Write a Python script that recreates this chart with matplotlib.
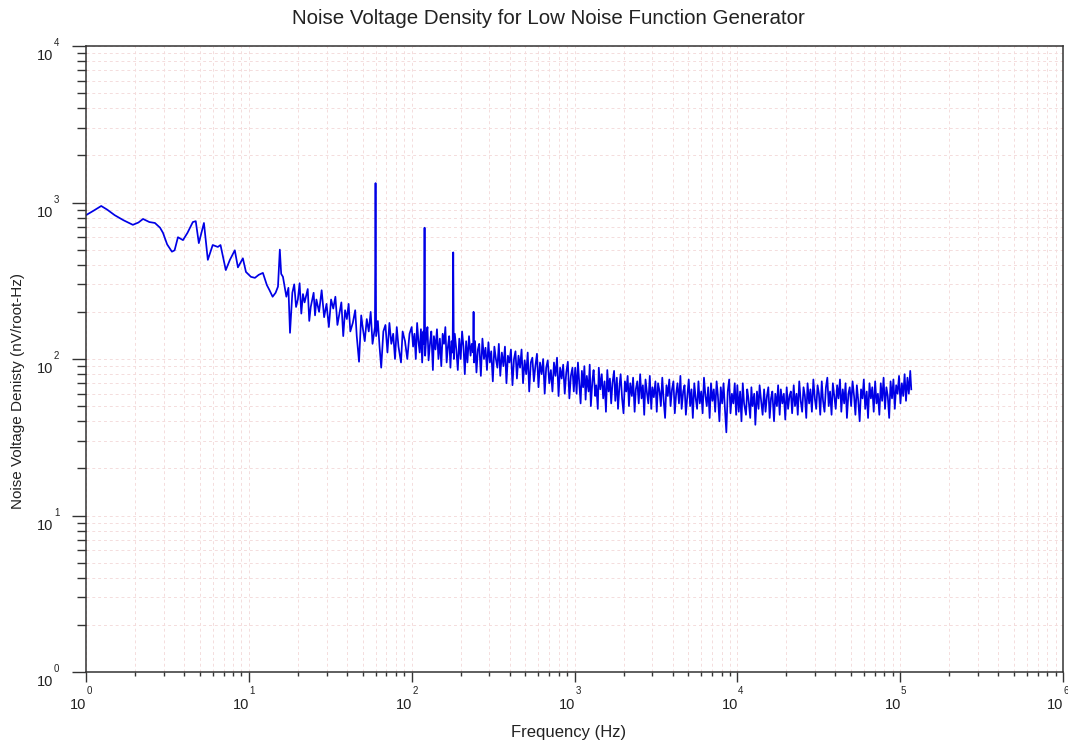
import numpy as np
import matplotlib
matplotlib.use('Agg')
import matplotlib.pyplot as plt
from matplotlib.ticker import LogLocator, NullFormatter

plt.rcParams.update({
    'font.family': ['Liberation Sans', 'DejaVu Sans'],
    'axes.linewidth': 1.1,
})

# smooth low-frequency part of the spectrum (Hz, nV/rtHz)
freq_low = [1.0, 1.12, 1.24, 1.35, 1.5, 1.7, 1.94, 2.1, 2.24, 2.45, 2.65, 2.85,
            2.97, 3.15, 3.37, 3.5, 3.67, 3.94, 4.2, 4.53, 4.72, 4.93, 5.3, 5.6,
            6.0, 6.45, 6.7, 7.22, 7.65, 8.2, 8.57, 9.19, 9.6, 10.3, 10.9, 11.5,
            12.2, 12.9, 13.4, 14.0, 14.6, 15.1, 15.5, 15.8, 16.2]
nvd_low = [830, 890, 950, 900, 830, 770, 720, 745, 785, 750, 740, 690,
           640, 540, 485, 495, 600, 575, 640, 750, 760, 550, 740, 430,
           535, 520, 535, 370, 430, 495, 385, 440, 360, 335, 330, 345,
           355, 297, 275, 250, 265, 290, 500, 350, 335]

# noisy part, 16 Hz - 100 Hz (60 Hz mains line)
freq_10 = [16.5, 17, 17.5, 17.9, 18.5, 19, 19.5, 20, 20.5, 21,
           21.5, 22, 23, 23.5, 24, 25, 25.5, 26, 27, 28,
           29, 30, 31, 32, 33, 34, 35, 36, 37, 38,
           39, 40, 41, 42, 43.5, 45, 46, 47.5, 49, 50,
           51.5, 53, 54.5, 56, 57.5, 59.5, 60, 60.5, 62, 63.5,
           65, 67, 69, 71, 73, 75, 77, 79, 81, 83,
           86, 88, 91, 94, 97]
nvd_10 = [300, 250, 285, 147, 265, 300, 215, 240, 305, 195,
          260, 230, 280, 175, 215, 265, 190, 240, 200, 275,
          185, 225, 160, 240, 210, 250, 165, 195, 230, 140,
          205, 180, 225, 150, 170, 205, 140, 96, 190, 160,
          130, 180, 150, 200, 125, 160, 1330, 140, 175, 120,
          88, 150, 165, 110, 170, 125, 145, 100, 160, 120,
          95, 150, 130, 100, 145]

# 100 Hz - 1 kHz (120, 180, 240 Hz harmonics)
freq_100 = [100, 102, 104, 106, 108, 110, 112, 114, 116, 118,
            119, 120, 121, 123, 125, 127, 130, 132, 135, 137,
            140, 143, 146, 149, 152, 155, 158, 161, 164, 167,
            170, 173, 176, 178.5, 180, 181.5, 184, 188, 192, 196,
            200, 204, 208, 212, 216, 220, 225, 230, 234, 238.5,
            240, 241.5, 245, 250, 255, 260, 266, 272, 278, 284,
            290, 296, 302, 308, 315, 322, 329, 336, 343, 350,
            358, 366, 374, 382, 390, 398, 407, 416, 425, 434,
            443, 453, 463, 473, 483, 494, 505, 516, 527, 539,
            551, 563, 575, 588, 601, 614, 628, 642, 656, 670,
            685, 700, 716, 732, 748, 764, 781, 798, 816, 834,
            852, 871, 890, 910, 930, 950, 971, 990]
nvd_100 = [160, 120, 145, 100, 170, 130, 110, 155, 95, 150,
           125, 690, 105, 140, 160, 98, 130, 150, 85, 140,
           115, 155, 100, 135, 90, 145, 125, 160, 95, 120,
           140, 88, 130, 110, 480, 100, 145, 115, 85, 135,
           100, 150, 120, 80, 130, 95, 140, 105, 125, 110,
           200, 95, 130, 82, 115, 125, 78, 135, 100, 118,
           85, 128, 95, 112, 72, 120, 100, 88, 125, 78,
           110, 90, 120, 70, 105, 95, 115, 68, 100, 112,
           75, 105, 88, 115, 70, 98, 80, 110, 62, 95,
           102, 72, 90, 108, 66, 95, 80, 100, 60, 88,
           98, 70, 85, 62, 95, 78, 102, 58, 88, 75,
           92, 60, 82, 96, 56, 78, 88, 62]

# 1 kHz - 10 kHz
freq_1k = [1010, 1030, 1050, 1070, 1090, 1110, 1130, 1150, 1170, 1190,
           1220, 1240, 1260, 1290, 1310, 1340, 1360, 1390, 1410, 1440,
           1470, 1500, 1530, 1560, 1590, 1620, 1650, 1680, 1710, 1750,
           1780, 1820, 1850, 1890, 1920, 1960, 2000, 2040, 2080, 2120,
           2160, 2200, 2250, 2290, 2340, 2380, 2430, 2480, 2530, 2580,
           2630, 2680, 2730, 2790, 2840, 2900, 2960, 3010, 3070, 3140,
           3200, 3260, 3330, 3390, 3460, 3530, 3600, 3670, 3740, 3820,
           3890, 3970, 4050, 4130, 4210, 4290, 4380, 4470, 4550, 4650,
           4740, 4830, 4930, 5030, 5130, 5230, 5330, 5440, 5550, 5660,
           5770, 5880, 6000, 6120, 6240, 6370, 6490, 6620, 6760, 6890,
           7030, 7170, 7310, 7460, 7600, 7760, 7910, 8070, 8230, 8390,
           8560, 8730, 8910, 9080, 9260, 9450, 9640, 9830]
nvd_1k = [88, 60, 95, 70, 52, 84, 66, 90, 55, 78,
          62, 92, 50, 74, 85, 58, 68, 48, 88, 64,
          80, 56, 72, 46, 85, 62, 75, 52, 70, 84,
          54, 76, 48, 68, 80, 56, 45, 72, 62, 78,
          50, 70, 58, 76, 46, 64, 72, 52, 80, 56,
          68, 44, 74, 60, 52, 78, 48, 66, 57, 72,
          46, 70, 62, 50, 76, 54, 42, 68, 58, 74,
          50, 64, 72, 45, 60, 70, 52, 78, 48, 62,
          68, 44, 58, 74, 50, 64, 42, 70, 56, 48,
          72, 52, 62, 45, 76, 58, 50, 66, 42, 70,
          54, 64, 46, 72, 58, 40, 66, 52, 70, 48,
          34, 62, 74, 45, 60, 52, 70, 44]

# 10 kHz - 117 kHz
freq_10k = [10000, 10200, 10400, 10600, 10800, 11000, 11300, 11500, 11700, 12000,
            12200, 12400, 12700, 12900, 13200, 13500, 13700, 14000, 14300, 14600,
            14900, 15200, 15500, 15800, 16100, 16400, 16800, 17100, 17500, 17800,
            18200, 18500, 18900, 19300, 19700, 20100, 20500, 20900, 21300, 21700,
            22200, 22600, 23100, 23500, 24000, 24500, 25000, 25500, 26000, 26500,
            27000, 27600, 28100, 28700, 29300, 29900, 30500, 31100, 31700, 32300,
            33000, 33600, 34300, 35000, 35700, 36400, 37100, 37900, 38600, 39400,
            40200, 41000, 41800, 42700, 43500, 44400, 45300, 46200, 47100, 48100,
            49000, 50000, 51000, 52100, 53100, 54200, 55300, 56400, 57500, 58700,
            59800, 61000, 62300, 63500, 64800, 66100, 67400, 68800, 70200, 71600,
            73000, 74500, 76000, 77500, 79100, 80700, 82300, 83900, 85600, 87300,
            89100, 90900, 92700, 94500, 96400, 98400, 100400, 102400, 104400, 106500,
            108600, 110800, 113000, 115300, 117000]
nvd_10k = [68, 46, 62, 40, 70, 52, 44, 64, 56, 42,
           66, 50, 60, 38, 62, 48, 68, 54, 44, 64,
           46, 58, 66, 42, 56, 62, 40, 60, 50, 68,
           44, 64, 52, 60, 41, 66, 48, 58, 62, 45,
           68, 50, 60, 44, 72, 54, 46, 66, 58, 42,
           70, 52, 64, 46, 74, 56, 48, 68, 60, 44,
           72, 54, 46, 66, 76, 50, 62, 44, 70, 58,
           48, 68, 56, 74, 46, 64, 52, 70, 42, 60,
           66, 50, 72, 58, 44, 68, 54, 40, 64, 56,
           74, 48, 62, 42, 70, 56, 66, 46, 72, 52,
           60, 44, 70, 54, 76, 48, 66, 58, 42, 72,
           56, 74, 48, 68, 60, 78, 52, 70, 58, 80,
           54, 76, 60, 84, 64]

freq = np.array(freq_low + freq_10 + freq_100 + freq_1k + freq_10k)
nvd = np.array(nvd_low + nvd_10 + nvd_100 + nvd_1k + nvd_10k)

fig = plt.figure(figsize=(10.68, 7.44), dpi=100)
ax = fig.add_axes([86 / 1068, 1 - 672 / 744, (1063 - 86) / 1068, (672 - 46) / 744])

ax.plot(freq, nvd, color='#0000e6', linewidth=1.25)

ax.set_xscale('log')
ax.set_yscale('log')
ax.set_xlim(1, 1e6)
ax.set_ylim(1, 1e4)

sub = LogLocator(base=10, subs=np.arange(2, 10))
ax.xaxis.set_minor_locator(sub)
ax.yaxis.set_minor_locator(sub)
for a in (ax.xaxis, ax.yaxis):
    a.set_major_formatter(NullFormatter())
    a.set_minor_formatter(NullFormatter())

ax.grid(True, which='both', color='#f4dcdc', linestyle=(0, (3, 3)), linewidth=0.7)
ax.set_axisbelow(True)

ax.tick_params(which='both', direction='out', color='#333333', width=1.0,
               top=False, right=False)
ax.tick_params(axis='x', which='major', length=7)
ax.tick_params(axis='x', which='minor', length=3)
ax.tick_params(axis='y', which='major', length=10)
ax.tick_params(axis='y', which='minor', length=6.5)
for s in ax.spines.values():
    s.set_color('#333333')

# "10" with raised exponent, as in the original plot
lab_kw = dict(fontsize=10.5, color='#222222')
exp_kw = dict(fontsize=7, color='#222222')
for k in range(0, 7):
    ax.annotate('10', xy=(10.0 ** k, 0), xycoords=('data', 'axes fraction'),
                xytext=(0.5, -24), textcoords='offset points',
                ha='right', va='center', **lab_kw)
    ax.annotate(str(k), xy=(10.0 ** k, 0), xycoords=('data', 'axes fraction'),
                xytext=(0.6, -13.5), textcoords='offset points',
                ha='left', va='center', **exp_kw)
for k in range(0, 5):
    ax.annotate('10', xy=(0, 10.0 ** k), xycoords=('axes fraction', 'data'),
                xytext=(-23.5, -7.5), textcoords='offset points',
                ha='right', va='center', **lab_kw)
    ax.annotate(str(k), xy=(0, 10.0 ** k), xycoords=('axes fraction', 'data'),
                xytext=(-23, 2), textcoords='offset points',
                ha='left', va='center', **exp_kw)

fig.text(548 / 1068, 1 - 18 / 744, 'Noise Voltage Density for Low Noise Function Generator',
         ha='center', va='center', fontsize=14.8, color='#222222')
fig.text(569 / 1068, 1 - 733 / 744, 'Frequency (Hz)',
         ha='center', va='center', fontsize=12, color='#222222')
fig.text(18 / 1068, 1 - 391 / 744, 'Noise Voltage Denisty (nV/root-Hz)',
         ha='center', va='center', rotation=90, fontsize=11, color='#222222')

fig.savefig('out.png', dpi=100)
